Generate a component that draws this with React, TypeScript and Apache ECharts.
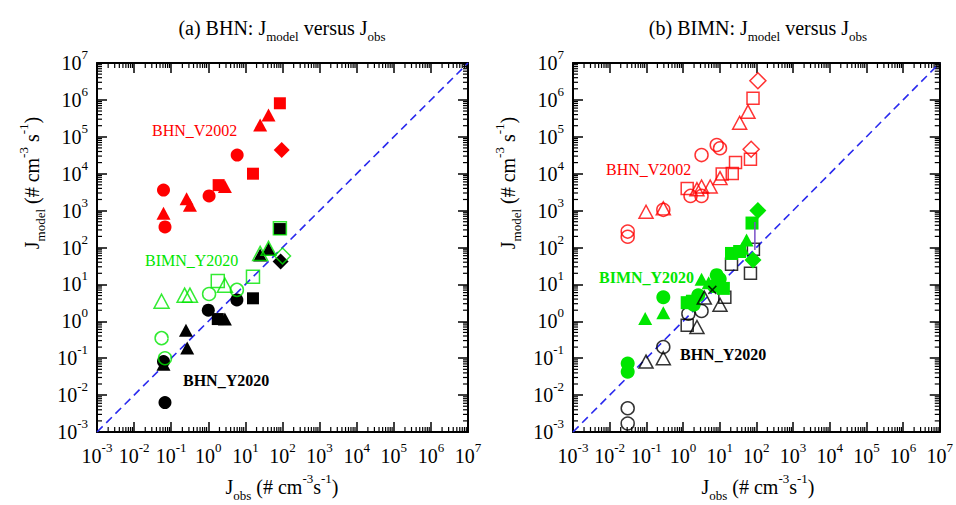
import React, { useEffect, useRef } from 'react';
import * as echarts from 'echarts';

const FF = 'Liberation Serif, Times New Roman, serif';
const RED = '#ff0000';
const GREEN = '#00e600';
const BLACK = '#000000';

// axis range (decades 10^-3 .. 10^7)
const AX_MIN = 1.0001e-3;
const AX_MAX = 1e7;
const oneToOne = [[1e-3, 1e-3], [1e7, 1e7]];

// ---- Panel (a) BHN : [Jobs, Jmodel] ----
const aV2002Circle = [[0.062, 3600], [0.068, 360], [1.05, 2500], [6.0, 32000]];
const aV2002Triangle = [[0.062, 850], [0.26, 2100], [0.32, 1400], [2.8, 4500], [25, 210000], [42, 390000]];
const aV2002Square = [[1.9, 4900], [16, 10000], [85, 810000]];
const aV2002Diamond = [[95, 44000]];

const aBimnCircle = [[0.055, 0.35], [0.068, 0.1], [1.05, 5.5], [5.9, 7.1]];
const aBimnTriangle = [[0.055, 3.5], [0.23, 5.1], [0.32, 5.1], [2.8, 9.5], [25, 69], [42, 95]];
const aBimnSquare = [[1.8, 12.3], [16, 16], [85, 330]];
const aBimnDiamond = [[100, 59]];

const aY2020Circle = [[0.062, 0.081], [0.068, 0.0063], [1.0, 2.0], [5.9, 3.8]];
const aY2020Triangle = [[0.062, 0.069], [0.25, 0.57], [0.27, 0.19], [2.8, 1.15], [25, 63], [42, 91]];
const aY2020Square = [[1.8, 1.15], [16, 4.2], [85, 316]];
const aY2020Diamond = [[89, 42]];

// ---- Panel (b) BIMN ----
const bV2002Circle = [[0.031, 270], [0.031, 195], [0.29, 1050], [1.6, 2500], [3.2, 2500], [3.2, 32000], [8.3, 60000], [10.2, 49000]];
const bV2002Triangle = [[0.098, 930], [0.29, 1150], [2.4, 3800], [3.2, 4500], [5.5, 4500], [10.2, 7600], [35, 240000], [59, 480000]];
const bV2002Square = [[1.3, 4000], [11.7, 9800], [22, 10200], [27, 20000], [69, 24500], [81, 1100000]];
const bV2002Diamond = [[72, 46000], [110, 3300000]];

const bBimnCircle = [[0.031, 0.072], [0.031, 0.043], [0.29, 4.5], [1.95, 2.8], [2.6, 5.1], [7, 9], [8.3, 17.8], [10, 14]];
const bBimnTriangle = [[0.093, 1.2], [0.29, 1.7], [3.2, 13.8], [5, 11], [41, 95], [54, 160]];
const bBimnSquare = [[1.3, 3.2], [1.8, 3.5], [12.6, 7.8], [21, 69], [35, 78], [76, 460]];
const bBimnDiamond = [[81, 46], [110, 1000]];

const bY2020Circle = [[0.031, 0.0044], [0.031, 0.0017], [0.29, 0.2], [1.4, 1.6], [3.2, 1.9]];
const bY2020Triangle = [[0.098, 0.081], [0.29, 0.1], [2.4, 0.7], [3.8, 4.4], [10.2, 2.8]];
const bY2020Square = [[1.3, 0.78], [13.8, 4.5], [21, 35], [69, 20], [83, 89]];
const bY2020Cross = [[6.3, 7.1]];

const bLink = [[91, 85], [91, 490]];

// minor tick positions (2..9 x 10^d)
const minorVals: number[][] = [];
for (let d = -3; d < 7; d++) {
  for (let m = 2; m <= 9; m++) {
    const v = m * Math.pow(10, d);
    minorVals.push([v, v]);
  }
}

const labelRich = {
  b: { fontFamily: FF, fontSize: 20, color: '#000', lineHeight: 30 },
  p: { fontFamily: FF, fontSize: 13, color: '#000', lineHeight: 13, verticalAlign: 'top' },
};
const fmt = (v: number) => {
  const e = Math.round(Math.log10(v));
  return `{b|10}{p|${e}}`;
};

function xAx(gi: number, pos: string, show: boolean) {
  return {
    type: 'log', logBase: 10, gridIndex: gi, position: pos,
    min: AX_MIN, max: AX_MAX, splitNumber: 10,
    axisLine: { show: true, onZero: false, lineStyle: { color: '#000', width: 2 } },
    axisTick: { show: true, inside: true, length: 10, lineStyle: { color: '#000', width: 1.5 } },
    axisLabel: { show, margin: 9, formatter: fmt, rich: labelRich, showMinLabel: true, showMaxLabel: true },
    splitLine: { show: false },
    minorTick: { show: false },
  };
}
function yAx(gi: number, pos: string, show: boolean) {
  return {
    type: 'log', logBase: 10, gridIndex: gi, position: pos,
    min: AX_MIN, max: AX_MAX, splitNumber: 10,
    axisLine: { show: true, onZero: false, lineStyle: { color: '#000', width: 2 } },
    axisTick: { show: true, inside: true, length: 10, lineStyle: { color: '#000', width: 1.5 } },
    axisLabel: { show, margin: 9, formatter: fmt, rich: labelRich, showMinLabel: true, showMaxLabel: true },
    splitLine: { show: false },
    minorTick: { show: false },
  };
}

function sc(data: number[][], symbol: string, size: any, color: string, open: boolean, ai: number, z = 3) {
  return {
    type: 'scatter', xAxisIndex: ai, yAxisIndex: ai, data, symbol, symbolSize: size, silent: true, z,
    itemStyle: open
      ? { color: 'rgba(255,255,255,0)', borderColor: color, borderWidth: 1.5 }
      : { color, borderWidth: 0, opacity: 1 },
  };
}

function minorSeries(ai: number) {
  const L = 5;
  return {
    type: 'custom', xAxisIndex: ai, yAxisIndex: ai, data: minorVals, silent: true, z: 1,
    renderItem: (params: any, api: any) => {
      const v = api.value(0);
      const b = api.coord([v, AX_MIN]);
      const t = api.coord([v, AX_MAX]);
      const l = api.coord([AX_MIN, v]);
      const r = api.coord([AX_MAX, v]);
      const st = { stroke: '#000', lineWidth: 1.2 };
      return {
        type: 'group',
        children: [
          { type: 'line', shape: { x1: b[0], y1: b[1], x2: b[0], y2: b[1] - L }, style: st },
          { type: 'line', shape: { x1: t[0], y1: t[1], x2: t[0], y2: t[1] + L }, style: st },
          { type: 'line', shape: { x1: l[0], y1: l[1], x2: l[0] + L, y2: l[1] }, style: st },
          { type: 'line', shape: { x1: r[0], y1: r[1], x2: r[0] - L, y2: r[1] }, style: st },
        ],
      };
    },
  };
}

function dashLine(ai: number) {
  return {
    type: 'line', xAxisIndex: ai, yAxisIndex: ai, data: oneToOne, symbol: 'none', silent: true, z: 2,
    lineStyle: { color: '#2a2aee', width: 1.6, type: [8, 5] },
  };
}

const tRich = {
  b: { fontFamily: FF, fontSize: 20, fill: '#000', color: '#000', lineHeight: 30 },
  s: { fontFamily: FF, fontSize: 13, fill: '#000', color: '#000', lineHeight: 13, verticalAlign: 'bottom' },
  p: { fontFamily: FF, fontSize: 13, fill: '#000', color: '#000', lineHeight: 13, verticalAlign: 'top' },
};

function richText(x: number, y: number, text: string, rotation = 0) {
  return {
    type: 'text', x, y, rotation, silent: true,
    style: { text, rich: tRich, textAlign: 'center', textVerticalAlign: 'middle' },
  };
}
function plainText(x: number, y: number, text: string, color: string, bold = false) {
  return {
    type: 'text', x, y, silent: true,
    style: { text, fill: color, fontFamily: FF, fontSize: 16, fontWeight: bold ? 'bold' : 'normal', textVerticalAlign: 'middle' },
  };
}

export default function App() {
  const ref = useRef<HTMLDivElement>(null);
  useEffect(() => {
    if (!ref.current) return;
    const chart = echarts.init(ref.current, null, { renderer: 'svg' });
    const CROSS = 'path://M0 0L10 10M10 0L0 10';
    const option: any = {
      animation: false,
      backgroundColor: '#ffffff',
      textStyle: { fontFamily: FF },
      grid: [
        { left: 97, top: 63, width: 371, height: 369 },
        { left: 573, top: 63, width: 371, height: 369 },
      ],
      xAxis: [xAx(0, 'bottom', true), xAx(0, 'top', false), xAx(1, 'bottom', true), xAx(1, 'top', false)],
      yAxis: [yAx(0, 'left', true), yAx(0, 'right', false), yAx(1, 'left', true), yAx(1, 'right', false)],
      series: [
        minorSeries(0),
        minorSeries(2),
        dashLine(0),
        dashLine(2),
        // panel a
        sc(aV2002Circle, 'circle', 13, RED, false, 0),
        sc(aV2002Triangle, 'triangle', [14, 13], RED, false, 0),
        sc(aV2002Square, 'rect', 12, RED, false, 0),
        sc(aV2002Diamond, 'diamond', [16, 16], RED, false, 0),
        sc(aY2020Circle, 'circle', 13, BLACK, false, 0, 3),
        sc(aY2020Triangle, 'triangle', [14, 13], BLACK, false, 0, 3),
        sc(aY2020Square, 'rect', 12, BLACK, false, 0, 3),
        sc(aY2020Diamond, 'diamond', [16, 16], BLACK, false, 0, 3),
        sc(aBimnCircle, 'circle', 13, GREEN, true, 0, 4),
        sc(aBimnTriangle, 'triangle', [15, 14], GREEN, true, 0, 4),
        sc(aBimnSquare, 'rect', 13, GREEN, true, 0, 4),
        sc(aBimnDiamond, 'diamond', [16, 16], GREEN, true, 0, 4),
        // panel b
        sc(bV2002Circle, 'circle', 13, RED, true, 2),
        sc(bV2002Triangle, 'triangle', [14, 13], RED, true, 2),
        sc(bV2002Square, 'rect', 12, RED, true, 2),
        sc(bV2002Diamond, 'diamond', [16, 16], RED, true, 2),
        sc(bY2020Square, 'rect', 12, BLACK, true, 2, 3),
        sc(bY2020Circle, 'circle', 13, BLACK, true, 2, 3),
        sc(bBimnCircle, 'circle', 14, GREEN, false, 2, 4),
        sc(bBimnTriangle, 'triangle', [14, 13], GREEN, false, 2, 4),
        sc(bBimnSquare, 'rect', 13, GREEN, false, 2, 4),
        sc(bBimnDiamond, 'diamond', [17, 17], GREEN, false, 2, 4),
        sc(bY2020Triangle, 'triangle', [14, 13], BLACK, true, 2, 5),
        sc(bY2020Cross, CROSS, 8, BLACK, true, 2, 5),
        {
          type: 'line', xAxisIndex: 2, yAxisIndex: 2, data: bLink, symbol: 'none', silent: true, z: 5,
          lineStyle: { color: '#7a4fc8', width: 1.5 },
        },
      ],
      graphic: [
        richText(282, 28, '{b|(a) BHN: J}{s|model}{b| versus J}{s|obs}'),
        richText(758, 28, '{b|(b) BIMN: J}{s|model}{b| versus J}{s|obs}'),
        richText(282, 487, '{b|J}{s|obs}{b| (# cm}{p|-3}{b|s}{p|-1}{b|)}'),
        richText(758, 487, '{b|J}{s|obs}{b| (# cm}{p|-3}{b|s}{p|-1}{b|)}'),
        richText(32, 183, '{b|J}{s|model}{b| (# cm}{p|-3}{b| s}{p|-1}{b|)}', Math.PI / 2),
        richText(508, 183, '{b|J}{s|model}{b| (# cm}{p|-3}{b| s}{p|-1}{b|)}', Math.PI / 2),
        plainText(152, 130, 'BHN_V2002', RED),
        plainText(145, 260, 'BIMN_Y2020', GREEN),
        plainText(183, 380, 'BHN_Y2020', BLACK, true),
        plainText(606, 169, 'BHN_V2002', RED),
        plainText(599, 277, 'BIMN_Y2020', GREEN, true),
        plainText(680, 354, 'BHN_Y2020', BLACK, true),
      ],
    };
    chart.setOption(option);
    return () => chart.dispose();
  }, []);
  return <div ref={ref} style={{ position: 'absolute', left: 0, top: 0, width: 956, height: 505 }} />;
}
